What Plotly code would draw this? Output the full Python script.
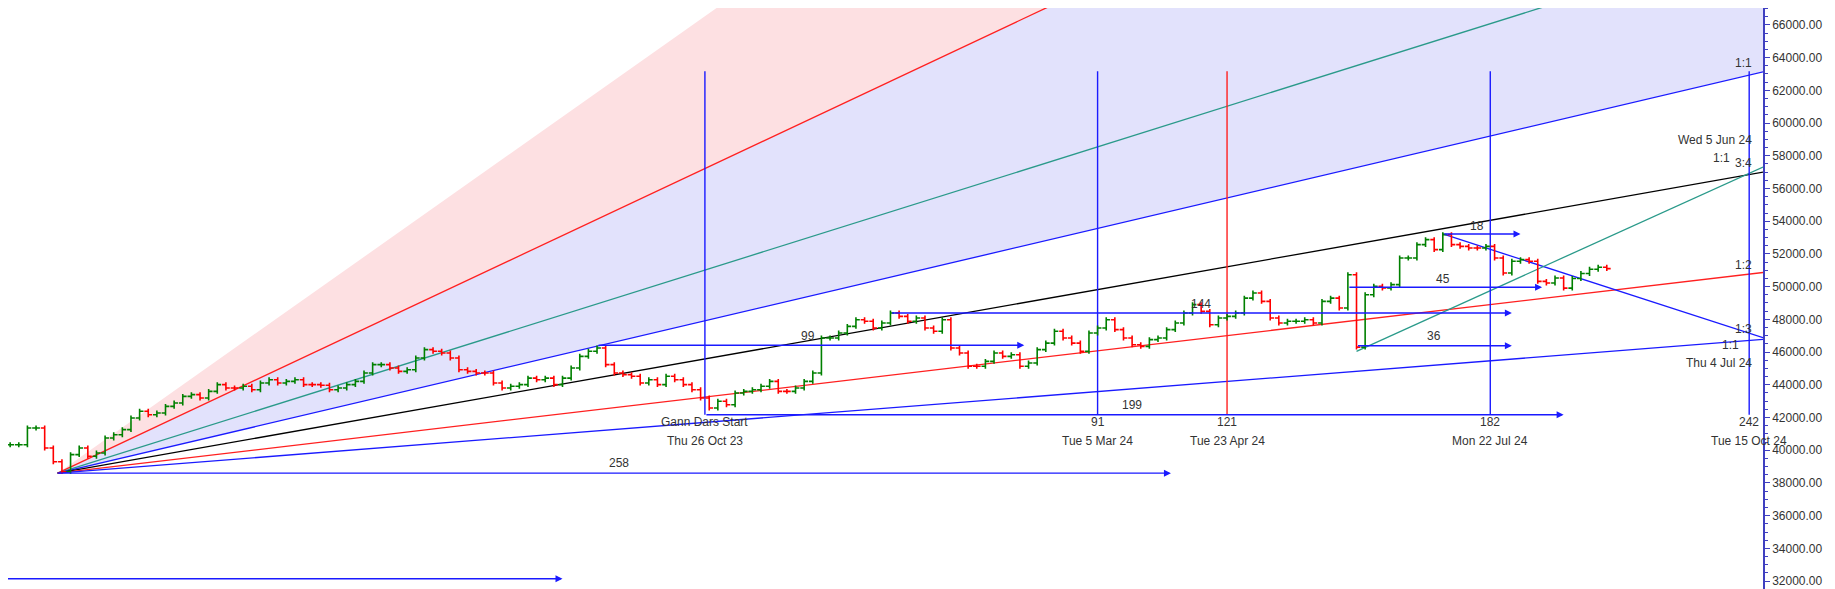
import plotly.graph_objects as go

# ---------------- data ----------------
BAR_START = -161          # bar index of first sample (bars counted from "Gann Dars Start")
BAR_STEP = 2
closes = [
    40340, 40340, 41360, 41360, 40140, 39300, 38700, 39730, 40140, 39630, 39830, 40750, 40950, 41260, 41970,
    42380, 42170, 42280, 42680, 42890, 43290, 43400, 43190, 43600, 44010, 43800, 43800, 43910, 43700, 44110,
    44310, 44110, 44210, 44310, 44010,
    44010, 43970, 43700, 43800, 44010, 44210, 44720, 45230, 45230, 45030, 44820, 44920,
    45640, 46150, 46050, 45940, 45640, 44920, 44820, 44720, 44720, 44110, 43800, 43910, 44010, 44410, 44310,
    44410, 44010, 44410, 45030, 45740, 46050, 46250, 45230, 44720, 44620, 44520, 44110, 44310, 44010, 44520,
    44310, 44010, 43700, 43190, 42580, 42990, 42780, 43500, 43600, 43700, 43910, 44210, 43600, 43600, 43800,
    44210,
    44720, 46860, 46860, 47170, 47570, 47980, 47880, 47470, 47780, 48390, 48180, 47880, 48080, 47470, 47270,
    47980, 46250, 45940, 45130, 45130, 45430, 45940, 45740, 45840, 45130, 45330, 46150, 46550, 47270, 46860,
    46550, 46040, 47170, 47470, 47980, 47370, 46860, 46450, 46350, 46760, 46860, 47370, 47780, 48390,
    48900, 48490, 47670, 48080, 48180, 48390, 49300, 49610, 49100, 48080, 47780, 47880, 47880, 47980, 47780,
    49100, 49300, 48690, 50730, 46300, 49500, 50020, 49920, 50120, 51750, 51750, 52570, 52870, 52260, 53180,
    52570, 52460, 52360, 52360, 52460, 51750, 50830, 51550, 51650, 51550,
    50320, 50220, 50530,
    49910, 50500, 50800, 51060, 51180, 51100,
]

# Gann fan
fan_origin_bar = -150
fan_origin_price = 38600
fan_unit = 62.06                      # price per bar for the 1x1 line
fan_ratios = [3, 2, 4 / 3, 1, 3 / 4, 1 / 2, 1 / 3]
fan_colors = [None, "#ff2020", "#2a9a8a", "#1a1aff", "#000000", "#ff2020", "#1a1aff"]

# Gann bar counts
gann_bars = [0, 91, 121, 182, 242]
gann_top_labels = ["Gann Dars Start", "91", "121", "182", "242"]
gann_dates = ["Thu 26 Oct 23", "Tue 5 Mar 24", "Tue 23 Apr 24", "Mon 22 Jul 24", "Tue 15 Oct 24"]
gann_colors = ["#1a1aff", "#1a1aff", "#ff2020", "#1a1aff", "#1a1aff"]
vline_low, vline_high = 42170, 63160

# count arrows: (start bar, price, length, label bar, label price)
count_arrows = [
    (0, 42170, 199, 99, 42780),
    (-150, 38600, 258, -20, 39250),
    (-25, 46414, 99, 24, 46980),
    (43, 48388, 144, 115, 48940),
    (149, 49959, 45, 171, 50483),
    (151, 46390, 36, 169, 46983),
    (171, 53218, 18, 179, 53724),
]
bottom_arrow = (-162, 32150, -33)

# other trend lines: (bar0, price0, bar1, price1, colour)
trend_lines = [
    (171, 53218, 245.2, 46880, "#1a1aff"),
    (151, 46046, 245.2, 57313, "#2a9a8a"),
]
right_labels = [
    ("1:1", 63670), ("Wed 5 Jun 24", 58950), ("1:1", 57890), ("3:4", 57560),
    ("1:2", 51335), ("1:3", 47440), ("1:1", 46430), ("Thu 4 Jul 24", 45360),
]
right_label_bars = [243, 243, 238, 243, 243, 243, 240, 243]

X0, X1 = -161.5, 245.2
Y0, Y1 = 31030, 67030

# ---------------- figure ----------------
fig = go.Figure()

def fan_price(ratio, bar):
    return fan_origin_price + ratio * fan_unit * (bar - fan_origin_bar)

XE = 260
def tri_path(r_a, r_b):
    return (f"M {fan_origin_bar},{fan_origin_price} L {XE},{fan_price(r_a, XE)} "
            f"L {XE},{fan_price(r_b, XE)} Z")

fig.add_shape(type="path", path=tri_path(fan_ratios[0], fan_ratios[1]), xref="x", yref="y",
              fillcolor="rgb(253,224,226)", line=dict(width=0), layer="below")
fig.add_shape(type="path", path=tri_path(fan_ratios[1], fan_ratios[3]), xref="x", yref="y",
              fillcolor="rgb(226,226,252)", line=dict(width=0), layer="below")

for r, c in zip(fan_ratios, fan_colors):
    if c is None:
        continue
    fig.add_shape(type="line", x0=fan_origin_bar, y0=fan_origin_price, x1=XE, y1=fan_price(r, XE),
                  xref="x", yref="y", line=dict(color=c, width=1.3), layer="below")

for b0, p0, b1, p1, c in trend_lines:
    fig.add_shape(type="line", x0=b0, y0=p0, x1=b1, y1=p1, xref="x", yref="y",
                  line=dict(color=c, width=1.3), layer="below")

# vertical Gann lines
for b, c in zip(gann_bars, gann_colors):
    fig.add_shape(type="line", x0=b, x1=b, y0=vline_low, y1=vline_high, xref="x", yref="y",
                  line=dict(color=c, width=1.4), layer="below")

# price bars
bars = [BAR_START + BAR_STEP * i for i in range(len(closes))]
opens = [closes[0]] + closes[:-1]
highs = [max(o, c) + 150 for o, c in zip(opens, closes)]
lows = [min(o, c) - 150 for o, c in zip(opens, closes)]
fig.add_trace(go.Ohlc(x=bars, open=opens, high=highs, low=lows, close=closes,
                      increasing=dict(line=dict(color="#008000", width=1.6)),
                      decreasing=dict(line=dict(color="#ff0000", width=1.6)),
                      tickwidth=0.45, showlegend=False, hoverinfo="skip"))

FONT = dict(family="Liberation Sans, Arial", size=12, color="#333333")

# count arrows
for sb, p, n, lb, lp in count_arrows:
    fig.add_annotation(x=sb + n, y=p, ax=sb, ay=p, xref="x", yref="y", axref="x", ayref="y",
                       showarrow=True, arrowhead=2, arrowsize=1, arrowwidth=1.4, arrowcolor="#1a1aff", text="")
    fig.add_annotation(x=lb, y=lp, text=str(n), showarrow=False, font=FONT)
fig.add_annotation(x=bottom_arrow[2], y=bottom_arrow[1], ax=bottom_arrow[0], ay=bottom_arrow[1],
                   xref="x", yref="y", axref="x", ayref="y", showarrow=True, arrowhead=2,
                   arrowwidth=1.4, arrowcolor="#1a1aff", text="")

# labels under vertical lines
for b, t, d in zip(gann_bars, gann_top_labels, gann_dates):
    fig.add_annotation(x=b, y=41700, text=t, showarrow=False, font=FONT)
    fig.add_annotation(x=b, y=40550, text=d, showarrow=False, font=FONT)

for (t, p), b in zip(right_labels, right_label_bars):
    fig.add_annotation(x=b, y=p, text=t, showarrow=False, xanchor="right", font=FONT)

fig.update_layout(
    width=1835, height=589, margin=dict(l=0, r=80, t=0, b=0),
    plot_bgcolor="white", paper_bgcolor="white", showlegend=False,
    xaxis=dict(range=[X0, X1], visible=False, rangeslider=dict(visible=False)),
    yaxis=dict(range=[Y0, Y1], side="right", showgrid=False, zeroline=False, dtick=2000,
               tickformat=".2f", ticks="outside", ticklen=5, tickcolor="#4040c0",
               showline=True, linecolor="#4040c0", linewidth=1.5,
               minor=dict(dtick=500, ticks="outside", ticklen=3, tickcolor="#4040c0"),
               tickfont=dict(family="Liberation Sans, Arial", size=12, color="#333333")),
)
fig.write_html("out.html")
